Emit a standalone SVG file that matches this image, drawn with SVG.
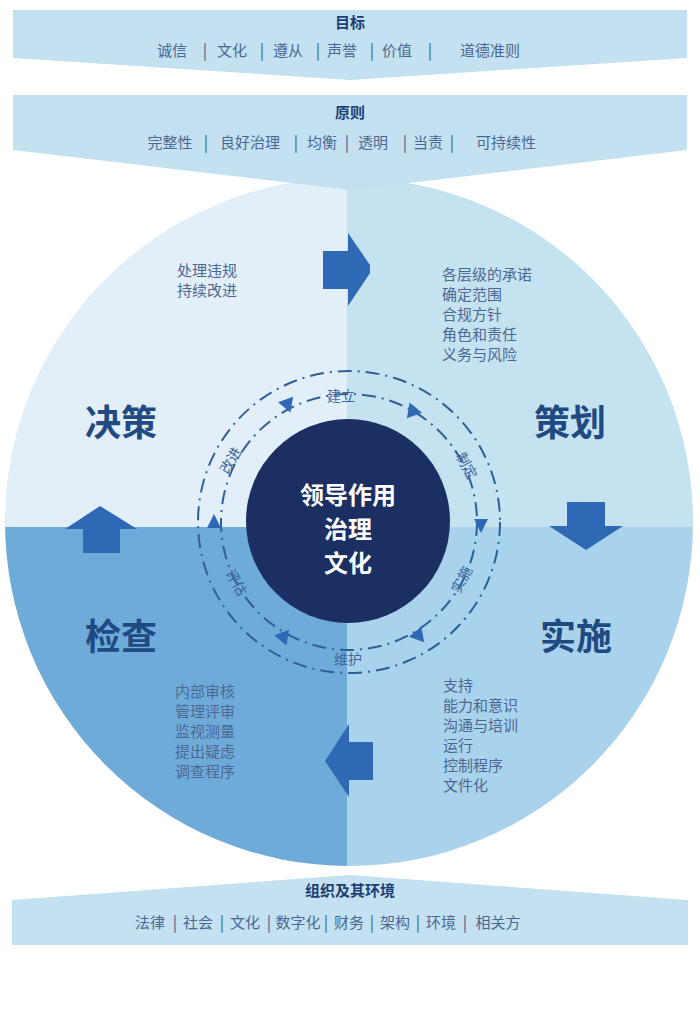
<svg xmlns="http://www.w3.org/2000/svg" width="700" height="1030" viewBox="0 0 700 1030">
<defs>
<style>
.ttl{font-family:"Noto Sans CJK SC","Noto Sans",sans-serif;font-weight:bold;fill:#1d3f73;text-anchor:middle}
.itm{font-family:"Noto Sans CJK SC","Noto Sans",sans-serif;fill:#4b6893;font-size:15px;text-anchor:middle}
.sep{font-family:"Noto Sans CJK SC","Noto Sans",sans-serif;fill:#3d5f8e;font-size:16px;text-anchor:middle}
.lst{font-family:"Noto Sans CJK SC","Noto Sans",sans-serif;fill:#4b6893;font-size:15px}
.quad{font-family:"Noto Sans CJK SC","Noto Sans",sans-serif;font-weight:bold;fill:#1f4a82;font-size:36px;text-anchor:middle}
.ring{font-family:"Noto Sans CJK SC","Noto Sans",sans-serif;fill:#3b679c;font-size:14px;text-anchor:middle}
.ctr{font-family:"Noto Sans CJK SC","Noto Sans",sans-serif;font-weight:bold;fill:#ffffff;font-size:24px;text-anchor:middle}
.arr{fill:#2f69b5}
.tri{fill:#2f69b5}
.banner{fill:#c3e1f1}
.dash{fill:none;stroke:#2f5f98;stroke-width:2;stroke-dasharray:14 6 2 6}
</style>
<clipPath id="cc"><circle cx="349" cy="522" r="344"/></clipPath>
</defs>
<rect width="700" height="1030" fill="#ffffff"/>

<g id="cycle">
<g clip-path="url(#cc)">
<rect x="0" y="170" width="347" height="357" fill="#e2eff8"/>
<rect x="347" y="170" width="360" height="357" fill="#c5e2f1"/>
<rect x="0" y="527" width="347" height="350" fill="#6fabd9"/>
<rect x="347" y="527" width="360" height="350" fill="#a9d2ec"/>
</g>
</g>

<g id="banner-goal">
<polygon class="banner" points="13,10 687,10 687,58 350,80 13,58"/>
<text class="ttl" x="350" y="28" font-size="15">目标</text>
<text class="itm" y="56"><tspan x="172">诚信</tspan><tspan x="205" class="sep">|</tspan><tspan x="232">文化</tspan><tspan x="262" class="sep">|</tspan><tspan x="288">遵从</tspan><tspan x="318" class="sep">|</tspan><tspan x="342">声誉</tspan><tspan x="372" class="sep">|</tspan><tspan x="397">价值</tspan><tspan x="430" class="sep">|</tspan><tspan x="490">道德准则</tspan></text>
</g>

<g id="banner-principles">
<polygon class="banner" points="13,95 687,95 687,150 350,190 13,150"/>
<text class="ttl" x="350" y="118" font-size="15">原则</text>
<text class="itm" y="148"><tspan x="170">完整性</tspan><tspan x="206" class="sep">|</tspan><tspan x="250">良好治理</tspan><tspan x="296" class="sep">|</tspan><tspan x="322">均衡</tspan><tspan x="347" class="sep">|</tspan><tspan x="373">透明</tspan><tspan x="405" class="sep">|</tspan><tspan x="428">当责</tspan><tspan x="452" class="sep">|</tspan><tspan x="506">可持续性</tspan></text>
</g>

<g id="banner-context">
<polygon class="banner" points="350,875 688,900 688,945 12,945 12,900"/>
<text class="ttl" x="350" y="896" font-size="15">组织及其环境</text>
<text class="itm" y="928"><tspan x="150">法律</tspan><tspan x="175" class="sep">|</tspan><tspan x="198">社会</tspan><tspan x="222" class="sep">|</tspan><tspan x="245">文化</tspan><tspan x="269" class="sep">|</tspan><tspan x="298">数字化</tspan><tspan x="326" class="sep">|</tspan><tspan x="349">财务</tspan><tspan x="372" class="sep">|</tspan><tspan x="395">架构</tspan><tspan x="418" class="sep">|</tspan><tspan x="441">环境</tspan><tspan x="465" class="sep">|</tspan><tspan x="498">相关方</tspan></text>
</g>

<g id="connectors">
<polygon class="arr" points="323,251 348,251 348,233 370,265 370,273 348,306 348,289 323,289"/>
<polygon class="arr" points="567,502 605,502 605,526 623,526 586,550 549,526 567,526"/>
<polygon class="arr" points="373,742 373,780 349,780 349,797 325,761 349,724 349,742"/>
<polygon class="arr" points="83,553 83,529 65,529 100,506 137,529 120,529 120,553"/>
<circle class="dash" cx="349" cy="522" r="151"/>
<circle class="dash" cx="349" cy="522" r="128"/>
<path class="tri" transform="translate(288,406) rotate(-20)" d="M-8,-7 L8,-7 L0,7 Z"/>
<path class="tri" transform="translate(412,409) rotate(-20)" d="M-8,7 L8,7 L0,-7 Z"/>
<path class="tri" transform="translate(481,526)" d="M-7,-7 L7,-7 L0,7 Z"/>
<path class="tri" transform="translate(419,633) rotate(20)" d="M-8,7 L8,7 L0,-7 Z"/>
<path class="tri" transform="translate(284,639) rotate(-20)" d="M-8,-7 L8,-7 L0,7 Z"/>
<path class="tri" transform="translate(214,521)" d="M-7,7 L7,7 L0,-7 Z"/>
</g>

<g id="center">
<circle cx="348" cy="521" r="102" fill="#1b2f63"/>
<text class="ctr" x="348" y="504">领导作用</text>
<text class="ctr" x="348" y="538">治理</text>
<text class="ctr" x="348" y="572">文化</text>
</g>

<g id="ring-labels">
<text class="ring" x="341" y="401">建立</text>
<text class="ring" transform="translate(462,468) rotate(62)">制定</text>
<text class="ring" transform="translate(466,582) rotate(-62)">实施</text>
<text class="ring" x="348" y="664">维护</text>
<text class="ring" transform="translate(232,585) rotate(60)">评估</text>
<text class="ring" transform="translate(235,463) rotate(-60)">改进</text>
</g>

<g id="decide">
<text class="quad" x="121" y="436">决策</text>
<text class="lst" x="177"><tspan x="177" y="276">处理违规</tspan><tspan x="177" y="296">持续改进</tspan></text>
</g>
<g id="plan">
<text class="quad" x="570" y="436">策划</text>
<text class="lst"><tspan x="442" y="280">各层级的承诺</tspan><tspan x="442" y="300">确定范围</tspan><tspan x="442" y="320">合规方针</tspan><tspan x="442" y="340">角色和责任</tspan><tspan x="442" y="360">义务与风险</tspan></text>
</g>
<g id="check">
<text class="quad" x="121" y="650">检查</text>
<text class="lst"><tspan x="175" y="697">内部审核</tspan><tspan x="175" y="717">管理评审</tspan><tspan x="175" y="737">监视测量</tspan><tspan x="175" y="757">提出疑虑</tspan><tspan x="175" y="777">调查程序</tspan></text>
</g>
<g id="do">
<text class="quad" x="576" y="650">实施</text>
<text class="lst"><tspan x="443" y="691">支持</tspan><tspan x="443" y="711">能力和意识</tspan><tspan x="443" y="731">沟通与培训</tspan><tspan x="443" y="751">运行</tspan><tspan x="443" y="771">控制程序</tspan><tspan x="443" y="791">文件化</tspan></text>
</g>
</svg>
